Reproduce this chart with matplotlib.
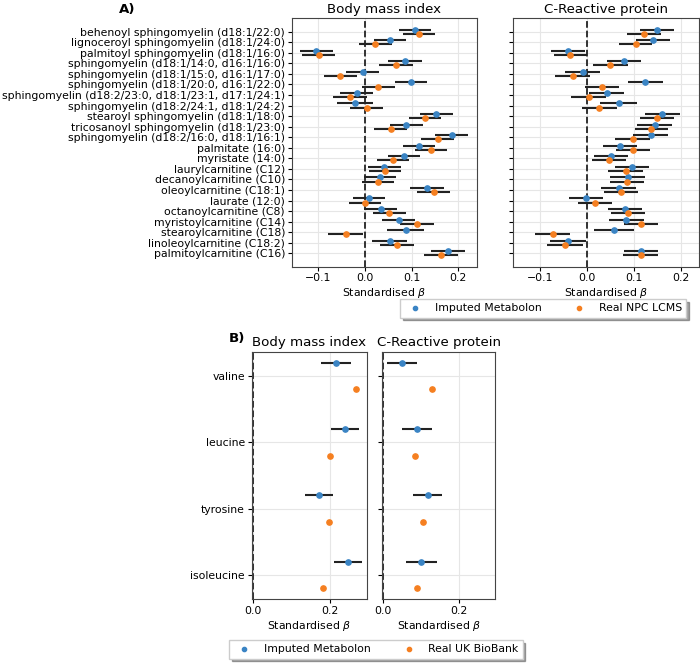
import matplotlib.pyplot as plt
import numpy as np

# panel A data
metabolites_a = [
    "behenoyl sphingomyelin (d18:1/22:0)",
    "lignoceroyl sphingomyelin (d18:1/24:0)",
    "palmitoyl sphingomyelin (d18:1/16:0)",
    "sphingomyelin (d18:1/14:0, d16:1/16:0)",
    "sphingomyelin (d18:1/15:0, d16:1/17:0)",
    "sphingomyelin (d18:1/20:0, d16:1/22:0)",
    "sphingomyelin (d18:2/23:0, d18:1/23:1, d17:1/24:1)",
    "sphingomyelin (d18:2/24:1, d18:1/24:2)",
    "stearoyl sphingomyelin (d18:1/18:0)",
    "tricosanoyl sphingomyelin (d18:1/23:0)",
    "sphingomyelin (d18:2/16:0, d18:1/16:1)",
    "palmitate (16:0)",
    "myristate (14:0)",
    "laurylcarnitine (C12)",
    "decanoylcarnitine (C10)",
    "oleoylcarnitine (C18:1)",
    "laurate (12:0)",
    "octanoylcarnitine (C8)",
    "myristoylcarnitine (C14)",
    "stearoylcarnitine (C18)",
    "linoleoylcarnitine (C18:2)",
    "palmitoylcarnitine (C16)",
]
bmi_imp = [0.1075, 0.054, -0.104, 0.086, -0.005, 0.099, -0.018, -0.0215, 0.153, 0.089, 0.186,
           0.116, 0.083, 0.041, 0.032, 0.133, 0.009, 0.034, 0.072, 0.087, 0.053, 0.178]
bmi_imp_ci = [0.035, 0.034, 0.035, 0.036, 0.035, 0.035, 0.036, 0.038, 0.035, 0.035, 0.0355,
              0.034, 0.034, 0.0355, 0.034, 0.036, 0.035, 0.035, 0.0355, 0.040, 0.037, 0.036]
bmi_real = [0.116, 0.022, -0.099, 0.066, -0.053, 0.029, -0.032, 0.0036, 0.129, 0.055, 0.156,
            0.141, 0.060, 0.043, 0.028, 0.147, 0.0, 0.052, 0.112, -0.041, 0.068, 0.163]
bmi_real_ci = [0.034, 0.035, 0.035, 0.036, 0.035, 0.035, 0.0355, 0.035, 0.035, 0.035, 0.035,
               0.034, 0.035, 0.035, 0.034, 0.035, 0.035, 0.035, 0.036, 0.0375, 0.0365, 0.037]
crp_imp = [0.150, 0.142, -0.041, 0.079, -0.009, 0.125, 0.042, 0.068, 0.161, 0.145, 0.136,
           0.071, 0.051, 0.096, 0.087, 0.068, -0.002, 0.082, 0.084, 0.058, -0.040, 0.116]
crp_imp_ci = [0.036, 0.036, 0.036, 0.037, 0.037, 0.037, 0.038, 0.040, 0.037, 0.037, 0.037,
              0.036, 0.036, 0.036, 0.037, 0.038, 0.037, 0.036, 0.037, 0.042, 0.039, 0.037]
crp_real = [0.122, 0.104, -0.035, 0.050, -0.030, 0.032, 0.004, 0.027, 0.150, 0.138, 0.098,
            0.098, 0.048, 0.083, 0.086, 0.073, 0.017, 0.088, 0.116, -0.073, -0.047, 0.115]
crp_real_ci = [0.036, 0.036, 0.036, 0.037, 0.037, 0.036, 0.037, 0.037, 0.037, 0.036, 0.037,
               0.036, 0.036, 0.037, 0.037, 0.037, 0.036, 0.037, 0.037, 0.038, 0.038, 0.037]

# panel B data
metabolites_b = ["valine", "leucine", "tyrosine", "isoleucine"]
bmi_b_imp = [0.216, 0.240, 0.173, 0.247]
bmi_b_imp_ci = [0.039, 0.0375, 0.0365, 0.036]
bmi_b_real = [0.268, 0.200, 0.197, 0.182]
crp_b_imp = [0.050, 0.089, 0.118, 0.101]
crp_b_imp_ci = [0.0405, 0.039, 0.0385, 0.0405]
crp_b_real = [0.130, 0.085, 0.106, 0.090]

blue = "#3a84c4"
orange = "#f57f20"
fs = 7.8

fig = plt.figure(figsize=(7, 6.63), dpi=100)


def forest(ax, y, est, ci, color, label):
    if ci is not None:
        ax.errorbar(est, y, xerr=ci, fmt='none', ecolor='#222222', elinewidth=1.5, zorder=2)
    return ax.plot(est, y, 'o', color=color, ms=3.8, zorder=3, label=label)[0]


def style(ax, title):
    ax.axvline(0, color='#222222', ls='--', lw=1.3, zorder=1)
    ax.grid(True, color='#e6e6e6', lw=0.8, zorder=0)
    ax.set_axisbelow(True)
    ax.set_title(title, fontsize=9.6, pad=4)
    ax.set_xlabel(r"Standardised $\beta$", fontsize=fs, labelpad=2)
    ax.tick_params(labelsize=fs, length=2.8, width=0.8, pad=2)
    for s in ax.spines.values():
        s.set_color('#444444')


# A)
ya = np.arange(len(metabolites_a))
axa1 = fig.add_axes([0.4167, 0.5977, 0.2643, 0.3747])
axa2 = fig.add_axes([0.7333, 0.5977, 0.2653, 0.3747], sharex=axa1, sharey=axa1)
h1 = forest(axa1, ya - 0.2, bmi_imp, bmi_imp_ci, blue, "Imputed Metabolon")
h2 = forest(axa1, ya + 0.2, bmi_real, bmi_real_ci, orange, "Real NPC LCMS")
forest(axa2, ya - 0.2, crp_imp, crp_imp_ci, blue, None)
forest(axa2, ya + 0.2, crp_real, crp_real_ci, orange, None)
style(axa1, "Body mass index")
style(axa2, "C-Reactive protein")
axa1.set_yticks(ya)
axa1.set_yticklabels(metabolites_a)
axa1.invert_yaxis()
axa1.set_xticks([-0.1, 0.0, 0.1, 0.2])
plt.setp(axa2.get_yticklabels(), visible=False)
fig.legend([h1, h2], ["Imputed Metabolon", "Real NPC LCMS"], loc='upper center',
           bbox_to_anchor=(0.776, 0.549), ncol=2, fontsize=fs, shadow=True, borderaxespad=0,
           numpoints=1, markerscale=0.8, columnspacing=2.5, fancybox=False, borderpad=0.4)
fig.text(0.17, 0.995, "A)", fontsize=9.6, fontweight='bold', ha='left', va='top')

# B)
yb = np.arange(len(metabolites_b))
axb1 = fig.add_axes([0.3596, 0.0961, 0.1643, 0.3735])
axb2 = fig.add_axes([0.5453, 0.0961, 0.1623, 0.3735], sharex=axb1, sharey=axb1)
g1 = forest(axb1, yb - 0.2, bmi_b_imp, bmi_b_imp_ci, blue, "Imputed Metabolon")
g2 = forest(axb1, yb + 0.2, bmi_b_real, None, orange, "Real UK BioBank")
forest(axb2, yb - 0.2, crp_b_imp, crp_b_imp_ci, blue, None)
forest(axb2, yb + 0.2, crp_b_real, None, orange, None)
style(axb1, "Body mass index")
style(axb2, "C-Reactive protein")
axb1.set_yticks(yb)
axb1.set_yticklabels(metabolites_b)
axb1.invert_yaxis()
axb1.set_xticks([0.0, 0.2])
plt.setp(axb2.get_yticklabels(), visible=False)
fig.legend([g1, g2], ["Imputed Metabolon", "Real UK BioBank"], loc='upper center',
           bbox_to_anchor=(0.537, 0.0347), ncol=2, fontsize=fs, shadow=True, borderaxespad=0,
           numpoints=1, markerscale=0.8, columnspacing=2.5, fancybox=False, borderpad=0.4)
fig.text(0.327, 0.49, "B)", fontsize=9.6, fontweight='bold', ha='left', va='center')

fig.savefig("out.png", dpi=100)
